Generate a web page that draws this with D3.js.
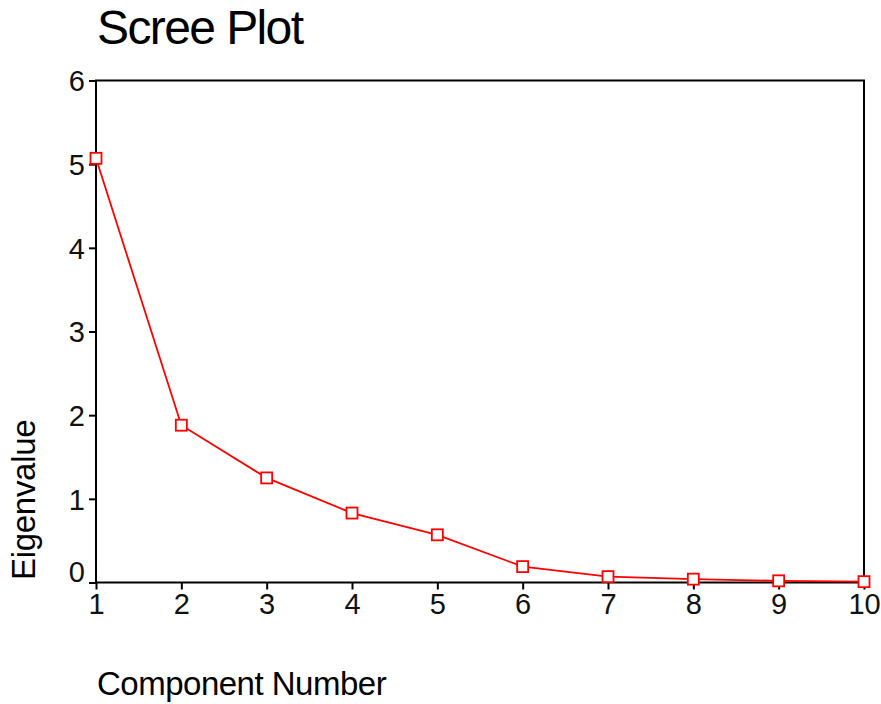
<!DOCTYPE html>
<style>
body { margin: 0; background: #fff; }
svg { font-family: Arial, "Liberation Sans", sans-serif; }
.axis .domain { display: none; }
.axis line { stroke: #000; stroke-width: 2; }
.axis text { font-size: 29px; fill: #111; }
</style>
<svg width="881" height="704"></svg>
<script src="https://d3js.org/d3.v7.min.js"></script>
<script>

var components = [1, 2, 3, 4, 5, 6, 7, 8, 9, 10];
var eigenvalues = [5.07, 1.88, 1.25, 0.83, 0.57, 0.19, 0.07, 0.04, 0.02, 0.01];
var yTicks = [0, 1, 2, 3, 4, 5, 6];

var svg = d3.select("svg"),
    margin = {top: 80.5, right: 17, bottom: 121.5, left: 96},
    width = +svg.attr("width") - margin.left - margin.right,
    height = +svg.attr("height") - margin.top - margin.bottom,
    g = svg.append("g").attr("transform", "translate(" + margin.left + "," + margin.top + ")");

var x = d3.scaleLinear().domain([1, 10]).range([0, width]);
var y = d3.scaleLinear().domain([0, 6]).range([height, 0]);

// title
svg.append("text")
    .attr("x", 97)
    .attr("y", 44)
    .attr("font-size", 48)
    .attr("letter-spacing", "-1.6")
    .text("Scree Plot");

// axes
g.append("g")
    .attr("class", "axis")
    .attr("transform", "translate(0," + height + ")")
    .call(d3.axisBottom(x).tickValues(components).tickFormat(d3.format("d")).tickSize(7).tickPadding(4));

g.append("g")
    .attr("class", "axis")
    .call(d3.axisLeft(y).tickValues(yTicks).tickFormat(d3.format("d")).tickSize(7).tickPadding(4))
  .selectAll(".tick text")
    .attr("dy", function(d) { return d === 0 ? "-0.05em" : "0.36em"; });

// frame
g.append("rect")
    .attr("width", width)
    .attr("height", height)
    .attr("fill", "none")
    .attr("stroke", "#000")
    .attr("stroke-width", 2);

// line
var line = d3.line()
    .x(function(d, i) { return x(components[i]); })
    .y(function(d) { return y(d); });

g.append("path")
    .datum(eigenvalues)
    .attr("fill", "none")
    .attr("stroke", "#ff0000")
    .attr("stroke-width", 1.8)
    .attr("d", line);

g.selectAll(".pt")
    .data(eigenvalues)
  .enter().append("rect")
    .attr("class", "pt")
    .attr("x", function(d, i) { return x(components[i]) - 5.5; })
    .attr("y", function(d) { return y(d) - 5.5; })
    .attr("width", 11)
    .attr("height", 11)
    .attr("fill", "#fff")
    .attr("stroke", "#ff0000")
    .attr("stroke-width", 1.8);

// axis titles
svg.append("text")
    .attr("x", 97)
    .attr("y", 695)
    .attr("font-size", 33)
    .attr("letter-spacing", "-0.5")
    .text("Component Number");

svg.append("text")
    .attr("transform", "translate(35,580) rotate(-90)")
    .attr("font-size", 33)
    .attr("letter-spacing", "-0.3")
    .text("Eigenvalue");

</script>
